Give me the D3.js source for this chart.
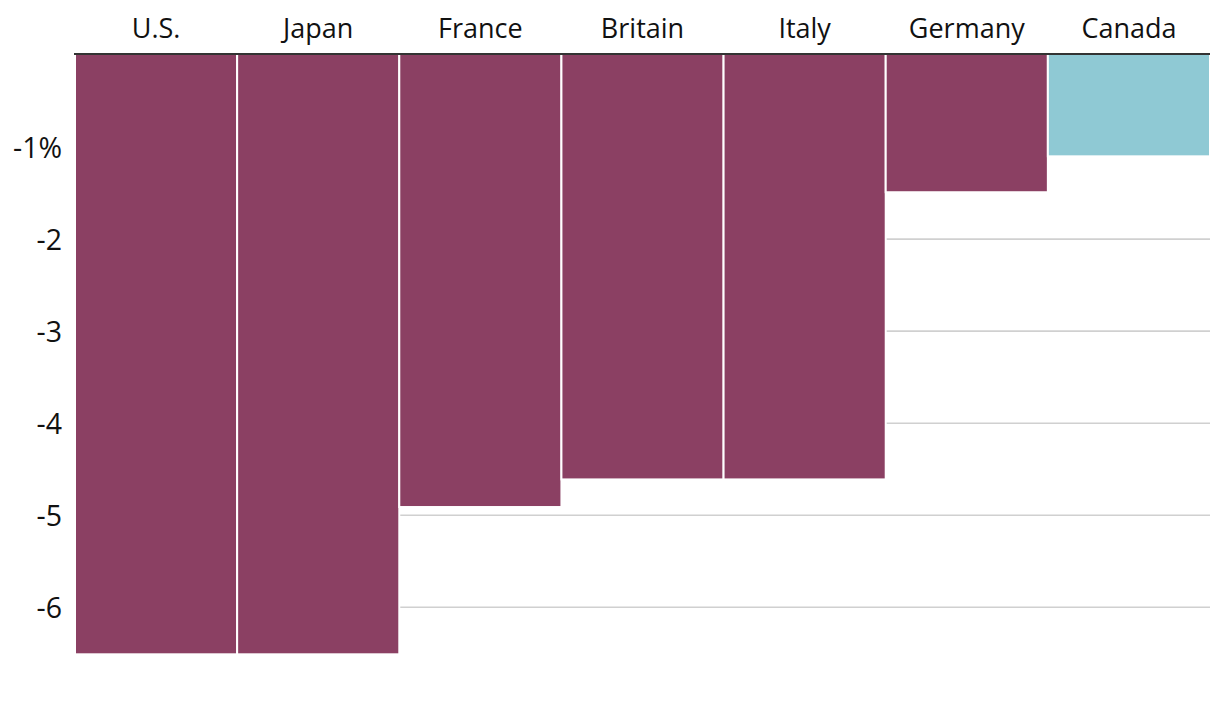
<!DOCTYPE html>
<html><head><meta charset="utf-8">
<script src="https://cdn.jsdelivr.net/npm/d3@7"></script>
<style>body{margin:0;background:#fff}svg{display:block}text{font-family:"Open Sans",sans-serif;fill:#111}</style>
</head><body><svg width="1220" height="714"></svg>
<script>
const categories = ["U.S.", "Japan", "France", "Britain", "Italy", "Germany", "Canada"];
const values = [-6.5, -6.5, -4.9, -4.6, -4.6, -1.48, -1.09];
const yTicks = [-1, -2, -3, -4, -5, -6];
const tickLabels = ["-1%", "-2", "-3", "-4", "-5", "-6"];
const highlight = ["Canada"];

const svg = d3.select("svg");
const x = d3.scaleBand().domain(categories).range([75, 1210]).paddingInner(0).paddingOuter(0);
const y = d3.scaleLinear().domain([0, -6.5]).range([55, 653.3]);

svg.append("g").selectAll("line").data(yTicks).join("line")
  .attr("x1", 75).attr("x2", 1210)
  .attr("y1", d => y(d)).attr("y2", d => y(d))
  .attr("stroke", "#d0d0d0").attr("stroke-width", 1.6);

svg.append("g").selectAll("rect").data(categories).join("rect")
  .attr("x", d => x(d))
  .attr("width", x.bandwidth())
  .attr("y", y(0) - 1)
  .attr("height", (d, i) => y(values[i]) - y(0) + 2)
  .attr("fill", d => highlight.includes(d) ? "#8fc9d4" : "#8b4063")
  .attr("stroke", "#fff").attr("stroke-width", 2);

svg.append("line").attr("x1", 74).attr("x2", 1210).attr("y1", y(0) - 1).attr("y2", y(0) - 1)
  .attr("stroke", "#333").attr("stroke-width", 2);

svg.append("g").selectAll("text").data(categories).join("text")
  .attr("x", d => x(d) + x.bandwidth() / 2).attr("y", 38)
  .attr("text-anchor", "middle").attr("font-size", 27).text(d => d);

svg.append("g").selectAll("text").data(yTicks).join("text")
  .attr("x", 62).attr("y", d => y(d)).attr("dy", "0.37em")
  .attr("text-anchor", "end").attr("font-size", 28.5).text((d, i) => tickLabels[i]);
</script></body></html>
